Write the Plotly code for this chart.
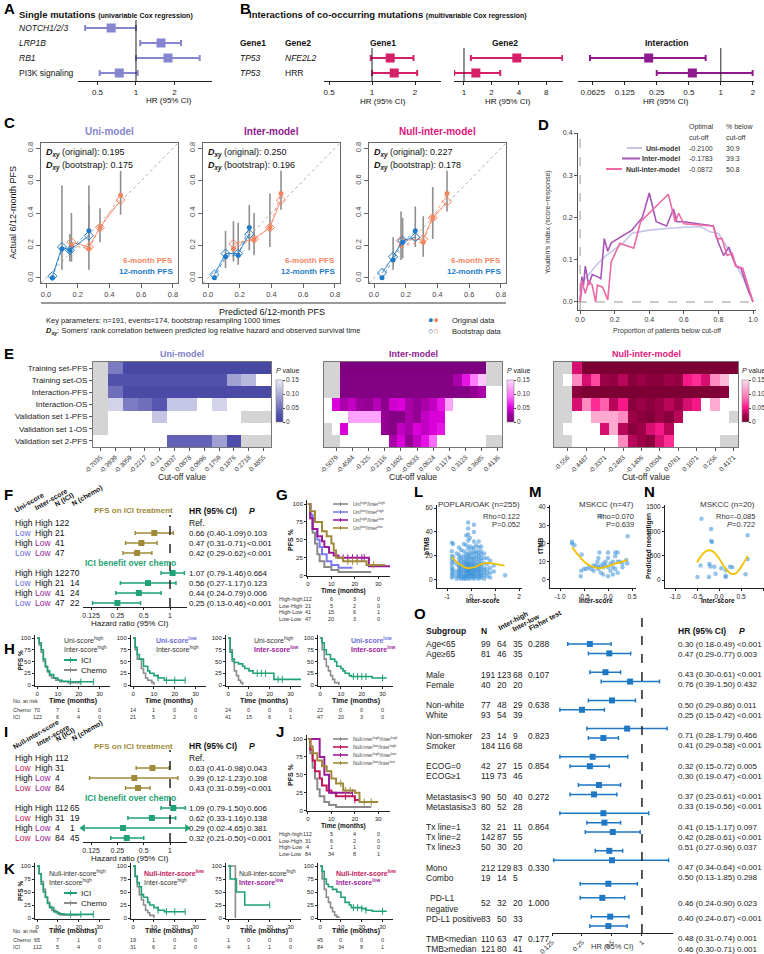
import math
import plotly.graph_objects as go

W, H = 764, 954
FONT = "Liberation Sans, Arial, Helvetica, sans-serif"
NARROW = "Liberation Sans Narrow, Liberation Sans, Arial, sans-serif"

UNI_C = "#8585d0"; INTER_C = "#8e1a8e"; NULL_C = "#e0147a"; B_PINK = "#d61f69"
ORANGE = "#f4845f"; BLUE = "#1f7bc8"; OLIVE = "#a08a3a"; GREEN = "#1fa274"
KM_GRAY = "#8c8c8c"; LOW_UNI = "#6b6bd8"; LOW_INTER = "#9b1a9b"; LOW_NULL = "#c2185b"
SCAT_C = "rgba(58,146,216,0.55)"; LOESS_C = "#f2c200"; O_BLUE = "#1f78c4"

# ---------------- DATA ----------------
A_LABELS = ["<i>NOTCH1/2/3</i>", "<i>LRP1B</i>", "<i>RB1</i>", "PI3K signaling"]
A_HR = [0.64, 1.57, 1.78, 0.74]
A_LO = [0.40, 1.08, 1.00, 0.52]
A_HI = [1.00, 2.25, 3.15, 1.03]
A_TICKS = [0.5, 1, 2, 4]

B_GENE1 = ["<i>TP53</i>", "<i>TP53</i>"]
B_GENE2 = ["<i>NFE2L2</i>", "HRR"]
B_G1_HR = [1.34, 1.43]; B_G1_LO = [0.98, 1.00]; B_G1_HI = [1.95, 2.07]
B_G2_HR = [3.80, 1.35]; B_G2_LO = [1.19, 0.78]; B_G2_HI = [12.0, 2.50]
B_IN_HR = [0.21, 0.54]; B_IN_LO = [0.059, 0.25]; B_IN_HI = [0.72, 1.99]
B_G1_TICKS = [0.5, 1, 2]
B_G2_TICKS = [1, 2, 4, 8]
B_IN_TICKS = [0.0625, 0.125, 0.25, 0.5, 1, 2]

C_MODELS = ["Uni-model", "Inter-model", "Null-inter-model"]
C_DXY_ORIG = ["0.195", "0.250", "0.227"]
C_DXY_BOOT = ["0.175", "0.196", "0.178"]
C_TICKS = [0.0, 0.2, 0.4, 0.6, 0.8]
C6_PRED = [[0.16, 0.27, 0.34, 0.47], [0.16, 0.29, 0.39, 0.46], [0.17, 0.31, 0.37, 0.46]]
C6_OBS = [[0.20, 0.18, 0.31, 0.51], [0.18, 0.24, 0.31, 0.52], [0.20, 0.22, 0.37, 0.52]]
C6_BOOT = [[0.22, 0.19, 0.31, 0.48], [0.21, 0.24, 0.31, 0.48], [0.23, 0.24, 0.37, 0.47]]
C6_LO = [[0.10, 0.05, 0.22, 0.39], [0.10, 0.14, 0.19, 0.42], [0.11, 0.13, 0.24, 0.41]]
C6_HI = [[0.40, 0.57, 0.43, 0.66], [0.35, 0.40, 0.52, 0.66], [0.41, 0.38, 0.56, 0.66]]
C12_PRED = [[0.04, 0.10, 0.15, 0.27], [0.04, 0.11, 0.19, 0.26], [0.05, 0.12, 0.18, 0.26]]
C12_OBS = [[0.00, 0.18, 0.17, 0.29], [0.00, 0.13, 0.14, 0.31], [0.00, 0.11, 0.22, 0.29]]
C12_BOOT = [[0.01, 0.19, 0.17, 0.26], [0.02, 0.15, 0.15, 0.27], [0.03, 0.13, 0.23, 0.25]]
C12_LO = [[None, 0.05, 0.10, 0.18], [None, 0.06, 0.08, 0.17], [None, 0.05, 0.12, 0.19]]
C12_HI = [[None, 0.57, 0.27, 0.45], [None, 0.29, 0.34, 0.45], [None, 0.25, 0.37, 0.44]]

D_UNI_X = [0, 0.02, 0.06, 0.1, 0.15, 0.2, 0.25, 0.3, 0.4, 0.5, 0.6, 0.7, 0.75, 0.8, 0.85, 0.9, 0.95, 1.0]
D_UNI_Y = [0, 0.05, 0.07, 0.09, 0.11, 0.125, 0.14, 0.163, 0.17, 0.174, 0.177, 0.178, 0.166, 0.162, 0.13, 0.09, 0.05, 0.0]
D_INT_X = [0, 0.01, 0.02, 0.03, 0.05, 0.07, 0.1, 0.12, 0.14, 0.16, 0.18, 0.3, 0.36, 0.4, 0.44, 0.5, 0.54, 0.56, 0.6, 0.7, 0.77, 0.8, 0.83, 0.86, 0.9, 0.93, 0.97, 1.0]
D_INT_Y = [0, 0.06, 0.04, 0.085, 0.04, 0.065, 0.06, 0.055, 0.15, 0.12, 0.14, 0.17, 0.2, 0.258, 0.19, 0.18, 0.22, 0.19, 0.19, 0.185, 0.18, 0.14, 0.11, 0.13, 0.085, 0.08, 0.03, 0.0]
D_NUL_X = [0, 0.01, 0.03, 0.05, 0.07, 0.09, 0.1, 0.13, 0.16, 0.18, 0.23, 0.31, 0.35, 0.51, 0.55, 0.57, 0.6, 0.77, 0.79, 0.82, 0.85, 0.88, 0.9, 0.94, 1.0]
D_NUL_Y = [0, 0.05, 0.02, 0.05, 0.04, 0.0, 0.04, 0.035, 0.005, 0.095, 0.139, 0.127, 0.19, 0.255, 0.19, 0.21, 0.185, 0.18, 0.15, 0.15, 0.11, 0.115, 0.085, 0.08, 0.0]
D_NAMES = ["Uni-model", "Inter-model", "Null-inter-model"]
D_CUTOFF = ["-0.2100", "-0.1783", "-0.0872"]
D_PCT = ["30.9", "39.3", "50.8"]
D_COLORS = ["#c5c5ea", "#a855b8", "#ee6aa5"]

NA = -1.0
WH = 1.0
E_ROWS = ["Training set-PFS", "Training set-OS", "Interaction-PFS", "Interaction-OS",
          "Validation set 1-PFS", "Validation set 1-OS", "Validation set 2-PFS"]
E_UNI_TICKS = ["-0.7035", "-0.3939", "-0.3059", "-0.2217", "-0.21", "0.0037", "0.0878", "0.0996",
               "0.1759", "0.1876", "0.2718", "0.4855"]
E_INTER_TICKS = ["-0.5079", "-0.4584", "-0.325", "-0.2116", "-0.1602", "-0.0633", "0.0624", "0.1174",
                 "0.3123", "0.3685", "0.4136"]
E_NULL_TICKS = ["-0.556", "-0.4487", "-0.3371", "-0.2483", "-0.1406", "-0.0504", "0.0761", "0.1071",
                "0.256", "0.4171"]
E_UNI = [
    [NA, .06, .01, .01, .01, .01, .01, .01, .01, .01, .01, .01],
    [NA, .025, .025, .025, .025, .025, .025, .025, .025, .09, .11, WH],
    [NA, .05, .015, .015, .015, .015, .015, .015, .015, .015, .015, .015],
    [NA, .13, .06, .05, .03, .12, .12, WH, .13, WH, WH, WH],
    [NA, WH, WH, WH, .12, WH, WH, WH, WH, WH, NA, NA],
    [NA, WH, WH, WH, WH, WH, WH, WH, WH, WH, WH, WH],
    [WH, WH, WH, WH, WH, .04, .04, .04, .09, .02, NA, NA],
]
E_INTER = [
    [NA, NA, .003, .003, .003, .003, .003, .003, .003, .003, .003, .003, .003, .003, .003, .003, .003, .003, .003, .003, NA, NA],
    [NA, NA, .008, .008, .008, .008, .008, .008, .008, .008, .008, .008, .008, .008, .008, .008, .03, .06, .10, .14, NA, NA],
    [NA, NA, .008, .008, .008, .008, .008, .008, .008, .008, .008, .008, .008, .008, .008, .008, .008, .008, .02, .03, WH, WH],
    [WH, .05, .03, .04, .025, .02, .035, .015, .045, .05, .03, .02, .03, .04, .06, .12, WH, WH, WH, WH, WH, WH],
    [WH, WH, WH, .12, .12, .12, .12, .02, .01, .01, .03, .02, .04, .05, .05, WH, WH, WH, WH, WH, WH, WH],
    [NA, WH, .05, WH, WH, WH, WH, .02, .01, .04, .03, .05, .04, .05, .06, WH, WH, WH, WH, WH, WH, WH],
    [NA, NA, WH, WH, WH, WH, WH, WH, .03, .05, .02, .04, .06, .09, WH, WH, WH, WH, WH, WH, NA, NA],
]
E_NULL = [
    [NA, NA, .04, .003, .003, .003, .003, .003, .003, .003, .003, .003, .003, .003, .003, .003, .003, .003, .003, .003],
    [NA, WH, .10, .04, .07, .02, .015, .03, .01, .02, .01, .01, .02, .015, .05, .06, .04, .10, .13, WH],
    [NA, NA, .01, .003, .003, .003, .003, .003, .003, .003, .003, .003, .003, .003, .003, .003, .003, .003, .01, WH],
    [NA, NA, .04, .10, .06, .08, .03, .05, .01, .02, .01, .02, .03, .02, .04, .05, WH, .12, WH, WH],
    [NA, NA, WH, WH, .12, .12, .12, .10, .02, .01, .005, .02, .01, .03, WH, WH, WH, WH, WH, NA],
    [NA, WH, WH, WH, WH, .04, .12, .03, .01, .02, .04, .05, .03, WH, WH, WH, WH, WH, WH, WH],
    [NA, NA, WH, WH, WH, WH, WH, .10, .03, .02, .01, .04, .06, WH, WH, WH, WH, WH, NA, NA],
]

F_UNI = ["High", "Low", "High", "Low"]
F_INTER = ["High", "High", "Low", "Low"]
F_NICI = [122, 21, 41, 47]
F_NCHEMO = [70, 14, 24, 22]
F_PFS_HR = [None, 0.66, 0.47, 0.42]; F_PFS_LO = [None, 0.40, 0.31, 0.29]; F_PFS_HI = [None, 1.09, 0.71, 0.62]
F_PFS_P = ["", "0.103", "&lt;0.001", "&lt;0.001"]
F_ICI_HR = [1.07, 0.56, 0.44, 0.25]; F_ICI_LO = [0.79, 0.27, 0.24, 0.13]; F_ICI_HI = [1.46, 1.17, 0.79, 0.46]
F_ICI_P = ["0.664", "0.123", "0.006", "&lt;0.001"]

I_NULL = ["High", "Low", "High", "Low"]
I_INTER = ["High", "High", "Low", "Low"]
I_NICI = [112, 31, 4, 84]
I_NCHEMO = [65, 19, 1, 45]
I_PFS_HR = [None, 0.63, 0.39, 0.43]; I_PFS_LO = [None, 0.41, 0.12, 0.31]; I_PFS_HI = [None, 0.98, 1.23, 0.59]
I_PFS_P = ["", "0.043", "0.108", "&lt;0.001"]
I_ICI_HR = [1.09, 0.62, 0.29, 0.32]; I_ICI_LO = [0.79, 0.33, 0.02, 0.21]; I_ICI_HI = [1.50, 1.16, 4.65, 0.50]
I_ICI_P = ["0.606", "0.138", "0.381", "&lt;0.001"]
FOREST_TICKS = [0.125, 0.25, 0.5, 1]

G_T = [[0, 1, 2, 3, 4, 5, 7, 10, 13, 27],
       [0, 1, 2, 4, 5, 6, 8, 10, 13, 19],
       [0, 1, 2, 4, 6, 7, 9, 11, 13, 25, 26, 35],
       [0, 1, 3, 6, 8, 10, 11, 12, 15, 22, 25, 33]]
G_S = [[100, 80, 60, 45, 30, 20, 12, 8, 5, 5],
       [100, 85, 65, 50, 40, 30, 20, 15, 11, 11],
       [100, 80, 65, 55, 48, 40, 32, 28, 25, 25, 13, 13],
       [100, 90, 75, 62, 55, 45, 35, 25, 20, 20, 15, 15]]
G_CENS = [[], [], [15, 17, 19, 21, 23, 24], [17, 19, 21, 28]]
G_LEG = ["Uni<sup>high</sup>/Inter<sup>high</sup>", "Uni<sup>low</sup>/Inter<sup>high</sup>",
         "Uni<sup>high</sup>/Inter<sup>low</sup>", "Uni<sup>low</sup>/Inter<sup>low</sup>"]
G_COLORS = ["#8a8a8a", "#7b7bf0", "#9b1a9b", "#a08a3a"]
G_RISK_LAB = ["High-high", "Low-High", "High-Low", "Low-Low"]
G_RISK = [[112, 6, 3, 0], [21, 5, 2, 0], [41, 15, 6, 1], [47, 20, 3, 0]]

J_T = [[0, 1, 2, 3, 4, 5, 7, 9, 12, 27],
       [0, 1, 2, 3, 5, 6, 8, 10, 12, 20, 22],
       [0, 5, 7, 9, 19],
       [0, 1, 2, 4, 6, 8, 10, 12, 15, 20, 22, 30]]
J_S = [[100, 80, 60, 45, 30, 20, 12, 8, 5, 5],
       [100, 85, 70, 55, 45, 35, 28, 25, 20, 15, 15],
       [100, 75, 50, 25, 25],
       [100, 90, 80, 70, 62, 55, 45, 38, 28, 25, 12, 12]]
J_CENS = [[], [16, 20], [19], [14, 16, 18, 24, 27]]
J_LEG = ["Null-inter<sup>high</sup>/Inter<sup>high</sup>", "Null-inter<sup>low</sup>/Inter<sup>high</sup>",
         "Null-inter<sup>high</sup>/Inter<sup>low</sup>", "Null-inter<sup>low</sup>/Inter<sup>low</sup>"]
J_COLORS = ["#8a8a8a", "#c2185b", "#9b1a9b", "#a08a3a"]
J_RISK = [[112, 5, 4, 0], [31, 6, 2, 0], [4, 1, 1, 0], [84, 34, 8, 1]]

H_ICI_T = [[0, 1, 2, 3, 4, 5, 6, 8, 10, 12, 15, 27],
           [0, 1, 2, 3, 5, 7, 8, 10, 12, 15, 25],
           [0, 1, 2, 3, 5, 7, 8, 10, 12, 20, 22, 35],
           [0, 1, 2, 3, 5, 7, 8, 10, 11, 12, 14, 15, 22, 25, 32]]
H_ICI_S = [[100, 90, 75, 55, 40, 30, 22, 15, 10, 8, 7, 7],
           [100, 80, 65, 55, 40, 30, 25, 20, 15, 10, 10],
           [100, 70, 55, 48, 45, 40, 35, 30, 25, 25, 12, 12],
           [100, 90, 75, 65, 55, 50, 40, 35, 30, 25, 20, 18, 18, 15, 15]]
H_CH_T = [[0, 1, 2, 3, 4, 5, 6, 7, 9, 11, 15, 21],
          [0, 1, 2, 4, 5, 6, 7, 9, 10],
          [0, 1, 2, 3, 4, 5, 6, 7],
          [0, 1, 2, 3, 4, 5, 6, 7, 9]]
H_CH_S = [[100, 85, 70, 50, 38, 28, 20, 15, 10, 7, 5, 5],
          [100, 75, 55, 35, 25, 15, 10, 5, 0],
          [100, 75, 50, 30, 20, 10, 5, 0],
          [100, 75, 55, 40, 30, 20, 12, 5, 0]]
H_CENS = [[16, 21, 27], [12, 16, 20, 25], [14, 16, 18, 24, 26], [16, 18, 20, 22, 30]]
H_T1 = ["Uni-score<sup>high</sup>", "Uni-score<sup>low</sup>", "Uni-score<sup>high</sup>", "Uni-score<sup>low</sup>"]
H_T1_C = [None, LOW_UNI, None, LOW_UNI]
H_T2 = ["Inter-score<sup>high</sup>", "Inter-score<sup>high</sup>", "Inter-score<sup>low</sup>", "Inter-score<sup>low</sup>"]
H_T2_C = [None, None, LOW_INTER, LOW_INTER]
H_RISK_CH = [[70, 7, 1, 0], [14, 1, 0, 0], [24, 0, 0, 0], [22, 0, 0, 0]]
H_RISK_ICI = [[122, 6, 4, 0], [21, 5, 2, 0], [41, 15, 6, 1], [47, 20, 3, 0]]

K_ICI_T = [[0, 1, 2, 3, 4, 5, 6, 8, 10, 13, 27],
           [0, 1, 2, 3, 4, 5, 7, 8, 10, 12, 15, 25],
           [0, 1, 4, 8, 20],
           [0, 1, 2, 3, 4, 6, 8, 10, 12, 14, 15, 20, 22, 25, 32]]
K_ICI_S = [[100, 85, 65, 50, 40, 28, 20, 12, 8, 7, 7],
           [100, 80, 68, 60, 45, 40, 30, 25, 20, 15, 12, 12],
           [100, 75, 50, 25, 25],
           [100, 90, 75, 65, 60, 55, 50, 40, 30, 25, 20, 18, 15, 13, 13]]
K_CH_T = [[0, 1, 2, 3, 4, 5, 6, 7, 9, 11, 20],
          [0, 1, 2, 3, 4, 5, 6, 7, 8, 10],
          [0, 3.5],
          [0, 1, 2, 3, 4, 5, 6, 7, 8, 9]]
K_CH_S = [[100, 85, 70, 55, 40, 30, 22, 15, 10, 6, 5],
          [100, 80, 60, 45, 35, 25, 15, 10, 5, 0],
          [100, 0],
          [100, 75, 55, 40, 30, 20, 12, 5, 2, 0]]
K_CENS = [[16, 21, 27], [12, 16, 20, 25], [20], [16, 18, 20, 22, 30]]
K_T1 = ["Null-inter-score<sup>high</sup>", "Null-inter-score<sup>low</sup>", "Null-inter-score<sup>high</sup>", "Null-inter-score<sup>low</sup>"]
K_T1_C = [None, LOW_NULL, None, LOW_NULL]
K_T2 = ["Inter-score<sup>high</sup>", "Inter-score<sup>high</sup>", "Inter-score<sup>low</sup>", "Inter-score<sup>low</sup>"]
K_T2_C = [None, None, LOW_INTER, LOW_INTER]
K_RISK_CH = [[65, 7, 1, 0], [19, 1, 0, 0], [1, 0, 0, 0], [45, 0, 0, 0]]
K_RISK_ICI = [[112, 5, 4, 0], [31, 6, 2, 0], [4, 1, 1, 0], [84, 34, 8, 1]]
RISK_TIMES = [0, 10, 20, 30]
KM_XTICKS = [0, 10, 20, 30]
KM_YTICKS = [0, 25, 50, 75, 100]

L_COL_X = [-0.8, -0.75, -0.6, -0.5, -0.42, -0.3, -0.2, -0.12, -0.05, 0.05, 0.12, 0.22, 0.32, 0.42, 0.55, 0.68, 0.8, 0.95, 1.42]
L_COL_Y = [
    [31, 24, 20, 17, 14, 11, 8, 5, 2],
    [30, 19, 15, 9, 6, 3],
    [22, 13, 7, 4, 1],
    [27, 21, 18, 15, 12, 10, 8, 6, 4, 2],
    [25, 19, 16, 13, 11, 9, 7, 5, 3, 1],
    [30, 24, 20, 17, 15, 13, 11, 9, 7, 5, 3, 2, 1],
    [37, 29, 22, 19, 16, 14, 12, 10, 8, 6, 4, 3, 1],
    [48, 43, 38, 33, 26, 21, 18, 15, 13, 11, 9, 7, 6, 4, 2],
    [35, 28, 23, 20, 17, 14, 12, 10, 8, 6, 5, 3, 1],
    [26, 22, 18, 15, 13, 11, 9, 8, 6, 4, 2],
    [46, 40, 32, 27, 23, 19, 16, 13, 11, 9, 7, 5, 3, 1],
    [29, 24, 21, 18, 15, 12, 10, 8, 6, 4, 2],
    [32, 27, 23, 20, 17, 14, 12, 10, 8, 7, 5, 3, 1],
    [28, 24, 21, 18, 16, 13, 11, 9, 7, 5, 3, 2],
    [22, 18, 14, 10, 8, 6, 4, 1],
    [18, 13, 9, 6, 3],
    [16, 10, 6, 2],
    [12, 7],
    [4],
]
L_FIT_X = [-0.8, -0.6, -0.4, -0.2, 0.0, 0.2, 0.4, 0.6, 0.8, 1.0, 1.2, 1.4]
L_FIT_Y = [19, 15, 12, 10, 10, 11, 13, 14, 14, 13.5, 12.5, 12]
M_X = [-0.75, -0.75, -0.7, -0.55, -0.57, -0.56, -0.5, -0.45, -0.4, -0.35, -0.3, -0.3, -0.25, -0.22, -0.2, -0.2,
       -0.2, -0.18, -0.15, -0.15, -0.1, -0.1, -0.1, -0.05, -0.05, -0.15, 0.0, 0.0, 0.0, 0.0, 0.05, 0.05, 0.1, 0.1,
       0.1, 0.15, 0.15, 0.15, 0.2, 0.2, 0.2, 0.25, 0.3, 0.3, 0.41, 0.4, 0.38]
M_Y = [20, 21, 19, 14, 2, 5, 6, 6, 7, 6, 8, 5, 8, 10, 6, 12, 7, 15, 8, 4, 7, 9, 3, 8, 10, 35, 15, 12, 7, 2, 5, 9,
       10, 7, 3, 13, 15, 6, 10, 15, 4, 10, 9, 7, 24, 9, 11]
M_FIT_X = [-0.75, -0.6, -0.45, -0.3, -0.15, 0.0, 0.15, 0.3, 0.4]
M_FIT_Y = [18, 13, 9, 7, 6.5, 7.5, 9, 10, 11]
N_X = [-0.49, -0.42, -0.40, -0.23, -0.22, -0.2, -0.18, -0.18, -0.16, -0.11, -0.08, 0.05, 0.15, 0.15, 0.15, 0.25,
       0.3, 0.6, 0.65, 0.65]
N_Y = [60, 300, 1260, 60, 330, 280, 1050, 800, 780, 270, 130, 240, 200, 60, 90, 270, 260, 120, 430, 920]
N_FIT_X = [-0.5, -0.4, -0.3, -0.2, -0.1, 0.0, 0.1, 0.2, 0.3, 0.4, 0.5, 0.65]
N_FIT_Y = [360, 500, 590, 610, 560, 440, 300, 180, 120, 150, 270, 490]

O_SUB = ["Age&lt;65", "Age≥65", "Male", "Female", "Non-white", "White", "Non-smoker", "Smoker", "ECOG=0",
         "ECOG≥1", "Metastasis&lt;3", "Metastasis≥3", "Tx line=1", "Tx line=2", "Tx line≥3", "Mono", "Combo",
         "PD-L1<br>negative", "PD-L1 positive", "TMB&lt;median", "TMB≥median"]
O_GROUP = [0, 0, 1, 1, 2, 2, 3, 3, 4, 4, 5, 5, 6, 6, 6, 7, 7, 8, 8, 9, 9]
O_N = [99, 81, 191, 40, 77, 93, 23, 184, 42, 119, 90, 80, 32, 142, 50, 212, 19, 52, 83, 110, 121]
O_HIGH = [64, 46, 123, 20, 48, 54, 14, 116, 27, 73, 50, 52, 21, 87, 30, 129, 14, 32, 50, 63, 80]
O_LOW = [35, 35, 68, 20, 29, 39, 9, 68, 15, 46, 40, 28, 11, 55, 20, 83, 5, 20, 33, 47, 41]
O_FISHER = ["0.288", "", "0.107", "", "0.638", "", "0.823", "", "0.854", "", "0.272", "", "0.864", "", "",
            "0.330", "", "1.000", "", "0.177", ""]
O_HR = [0.30, 0.47, 0.43, 0.76, 0.50, 0.25, 0.71, 0.41, 0.32, 0.30, 0.37, 0.33, 0.41, 0.42, 0.51, 0.47, 0.50, 0.46, 0.40, 0.48, 0.46]
O_LO = [0.18, 0.29, 0.30, 0.39, 0.29, 0.15, 0.28, 0.29, 0.15, 0.19, 0.23, 0.19, 0.15, 0.28, 0.27, 0.34, 0.13, 0.24, 0.24, 0.31, 0.30]
O_HI = [0.49, 0.77, 0.61, 1.50, 0.86, 0.42, 1.79, 0.58, 0.72, 0.47, 0.61, 0.56, 1.17, 0.61, 0.96, 0.64, 1.85, 0.90, 0.67, 0.74, 0.71]
O_P = ["&lt;0.001", "0.003", "&lt;0.001", "0.432", "0.011", "&lt;0.001", "0.466", "&lt;0.001", "0.005", "&lt;0.001",
       "&lt;0.001", "&lt;0.001", "0.097", "&lt;0.001", "0.037", "&lt;0.001", "0.298", "0.023", "&lt;0.001", "0.001", "0.001"]
O_TICKS = [0.125, 0.25, 0.5, 1]

# ---------------- helpers ----------------
fig = go.Figure()
LAYOUT = {}
ANN = []
SHP = []


def X(px):
    return px / W


def Y(py):
    return 1 - py / H


def rid(n):
    return ("x" if n == 1 else f"x{n}"), ("y" if n == 1 else f"y{n}")


def axes(n, x0, x1, y0, y1, xa=None, ya=None):
    xr, yr = rid(n)
    base = dict(showgrid=False, zeroline=False, visible=False, fixedrange=True)
    xd = dict(base, domain=[X(x0), X(x1)], anchor=yr)
    yd = dict(base, domain=[Y(y1), Y(y0)], anchor=xr)
    if xa:
        xd.update(xa)
    if ya:
        yd.update(ya)
    LAYOUT["xaxis" + ("" if n == 1 else str(n))] = xd
    LAYOUT["yaxis" + ("" if n == 1 else str(n))] = yd


def T(x, y, s, size=8, color="#111", xa="left", ya="middle", xref="paper", yref="paper", angle=0, family=FONT):
    ANN.append(dict(x=X(x) if xref == "paper" else x, y=Y(y) if yref == "paper" else y, xref=xref, yref=yref,
                    text=s, showarrow=False, xanchor=xa, yanchor=ya, textangle=angle, borderpad=0,
                    font=dict(size=size, color=color, family=family)))


def LN(x0, y0, x1, y1, color="#111", width=1, dash="solid", xref="paper", yref="paper", layer="above"):
    SHP.append(dict(type="line", x0=X(x0) if xref == "paper" else x0, x1=X(x1) if xref == "paper" else x1,
                    y0=Y(y0) if yref == "paper" else y0, y1=Y(y1) if yref == "paper" else y1,
                    xref=xref, yref=yref, layer=layer, line=dict(color=color, width=width, dash=dash)))


AXV = dict(visible=True, showline=True, linecolor="#222", linewidth=1, ticks="outside", ticklen=3,
           tickwidth=1, tickcolor="#222")


def tf(size=8, color="#222", family=FONT):
    return dict(size=size, color=color, family=family)


def logaxis(lo, hi, ticks, size=8, **kw):
    d = dict(AXV, type="log", range=[math.log10(lo), math.log10(hi)], tickvals=ticks,
             ticktext=[f"{t:g}" for t in ticks], tickfont=tf(size))
    d.update(kw)
    return d


def forest(n, hr, lo, hi, ys, color, size=8, thick=2, capw=3, xlim=None):
    xr, yr = rid(n)
    idx = [i for i in range(len(hr)) if hr[i] is not None]
    fig.add_trace(go.Scatter(
        x=[hr[i] for i in idx], y=[ys[i] for i in idx], mode="markers", xaxis=xr, yaxis=yr,
        marker=dict(symbol="square", size=size, color=color),
        error_x=dict(type="data", symmetric=False, array=[hi[i] - hr[i] for i in idx],
                     arrayminus=[hr[i] - lo[i] for i in idx], color=color, thickness=thick, width=capw),
        showlegend=False, hoverinfo="skip"))
    if xlim:
        ax, ay, sym = [], [], []
        for i in idx:
            if lo[i] < xlim[0]:
                ax.append(xlim[0]); ay.append(ys[i]); sym.append("triangle-left")
            if hi[i] > xlim[1]:
                ax.append(xlim[1]); ay.append(ys[i]); sym.append("triangle-right")
        if ax:
            fig.add_trace(go.Scatter(x=ax, y=ay, mode="markers", xaxis=xr, yaxis=yr, cliponaxis=False,
                                     marker=dict(symbol=sym, size=7, color=color), showlegend=False,
                                     hoverinfo="skip"))


def vline1(n, dash="solid", width=1, color="#222"):
    xr, yr = rid(n)
    LN(1, 0, 1, 1, color=color, width=width, dash=dash, xref=xr, yref=yr + " domain")


def surv_at(t, s, c):
    v = s[0]
    for ti, si in zip(t, s):
        if ti <= c:
            v = si
    return v


def km(n, t, s, color, width=1.5, cens=None):
    xr, yr = rid(n)
    fig.add_trace(go.Scatter(x=t, y=s, mode="lines", line=dict(shape="hv", color=color, width=width),
                             xaxis=xr, yaxis=yr, showlegend=False, hoverinfo="skip"))
    if cens:
        fig.add_trace(go.Scatter(x=cens, y=[surv_at(t, s, c) for c in cens], mode="markers", xaxis=xr,
                                 yaxis=yr, marker=dict(symbol="line-ns", size=5, line=dict(color=color, width=1)),
                                 showlegend=False, hoverinfo="skip"))


def label(x, y, s):
    T(x, y, f"<b>{s}</b>", size=15, color="#000", family="Liberation Sans, Arial, sans-serif")


# ---------------- Panel A ----------------
label(3, 9, "A")
T(18, 15, "<b>Single mutations</b> <span style='font-size:7px'><b>(univariable Cox regression)</b></span>",
  size=9.5, family=NARROW)
axes(1, 78, 212, 20, 81, xa=logaxis(0.352, 3.93, A_TICKS), ya=dict(range=[3.533, -0.533]))
vline1(1)
forest(1, A_HR, A_LO, A_HI, list(range(len(A_HR))), UNI_C, size=9, thick=2, capw=3)
for i, lab in enumerate(A_LABELS):
    T(18, i, lab, size=8.5, yref="y")
T(145, 100, "HR (95% CI)", size=8)

# ---------------- Panel B ----------------
label(239, 9, "B")
T(248, 15, "<b>Interactions of co-occurring mutations</b> <span style='font-size:7px'><b>(multivariable Cox regression)</b></span>",
  size=9.5, family=NARROW)
T(239, 43, "<b>Gene1</b>", size=8.5, family=NARROW)
T(284, 43, "<b>Gene2</b>", size=8.5, family=NARROW)
rows_b = list(range(len(B_GENE1)))
axes(2, 324, 441, 48, 81, xa=logaxis(0.461, 3.04, B_G1_TICKS), ya=dict(range=[1.533, -0.667]))
axes(3, 454, 563, 48, 81, xa=logaxis(0.777, 12.2, B_G2_TICKS), ya=dict(range=[1.533, -0.667]))
axes(4, 578, 754, 48, 81, xa=logaxis(0.0455, 2.05, B_IN_TICKS), ya=dict(range=[1.533, -0.667]))
for n in (2, 3, 4):
    vline1(n)
forest(2, B_G1_HR, B_G1_LO, B_G1_HI, rows_b, B_PINK, size=9)
forest(3, B_G2_HR, B_G2_LO, B_G2_HI, rows_b, B_PINK, size=9)
forest(4, B_IN_HR, B_IN_LO, B_IN_HI, rows_b, INTER_C, size=9)
for i in rows_b:
    T(239, i, B_GENE1[i], size=8.5, yref="y2")
    T(284, i, B_GENE2[i], size=8.5, yref="y2")
T(383, 43, "<b>Gene1</b>", size=8.5, xa="center", family=NARROW)
T(505, 43, "<b>Gene2</b>", size=8.5, xa="center", family=NARROW)
T(666, 43, "<b>Interaction</b>", size=8.5, xa="center", family=NARROW)
for cx in (383, 508, 666):
    T(cx, 101, "HR (95% CI)", size=8, xa="center")

# ---------------- Panel C ----------------
label(3, 122, "C")
C_BOX_X = [(41, 178), (203, 340), (369, 506)]
C_COLORS = [UNI_C, INTER_C, NULL_C]
CR = [-0.032, 0.832]
for i in range(3):
    n = 5 + i
    x0, x1 = C_BOX_X[i]
    xr, yr = rid(n)
    cax = dict(AXV, range=CR, tickvals=C_TICKS, ticktext=[f"{t:.1f}" for t in C_TICKS], mirror=True,
               linecolor="#666", tickcolor="#666", ticklen=4, tickfont=tf(7.5, "#444"))
    axes(n, x0, x1, 143, 283, xa=dict(cax), ya=dict(cax, tickangle=-90))
    LN(CR[0], CR[0], CR[1], CR[1], color="#b0b0b0", width=1, dash="dot", xref=xr, yref=yr, layer="below")
    for pred, obs, lo, hi in ((C6_PRED[i], C6_OBS[i], C6_LO[i], C6_HI[i]),
                              (C12_PRED[i], C12_OBS[i], C12_LO[i], C12_HI[i])):
        idx = [k for k in range(len(pred)) if lo[k] is not None]
        fig.add_trace(go.Scatter(
            x=[pred[k] for k in idx], y=[obs[k] for k in idx], mode="markers", xaxis=xr, yaxis=yr,
            marker=dict(size=1, color="rgba(0,0,0,0)"),
            error_y=dict(type="data", symmetric=False, array=[hi[k] - obs[k] for k in idx],
                         arrayminus=[obs[k] - lo[k] for k in idx], color="#8f8f8f", thickness=1.6, width=0),
            showlegend=False, hoverinfo="skip"))
    for pred, obs, boot, col in ((C6_PRED[i], C6_OBS[i], C6_BOOT[i], ORANGE),
                                 (C12_PRED[i], C12_OBS[i], C12_BOOT[i], BLUE)):
        fig.add_trace(go.Scatter(x=pred, y=boot, mode="lines+markers", xaxis=xr, yaxis=yr,
                                 line=dict(color=col, width=0.9),
                                 marker=dict(symbol="diamond-open", size=7, color=col, line=dict(width=1)),
                                 showlegend=False, hoverinfo="skip"))
        fig.add_trace(go.Scatter(x=pred, y=obs, mode="lines+markers", xaxis=xr, yaxis=yr,
                                 line=dict(color=col, width=0.8, dash="dot"),
                                 marker=dict(symbol="circle", size=5, color=col),
                                 showlegend=False, hoverinfo="skip"))
    T((x0 + x1) / 2, 131, f"<b>{C_MODELS[i]}</b>", size=10, color=C_COLORS[i], xa="center")
    T(x0 + 4, 153, f"<b><i>D</i></b><sub><b><i>xy</i></b></sub> (original): {C_DXY_ORIG[i]}", size=9)
    T(x0 + 4, 166, f"<b><i>D</i></b><sub><b><i>xy</i></b></sub> (bootstrap): {C_DXY_BOOT[i]}", size=9)
    T(x1 - 4, 260, "<b>6-month PFS</b>", size=8, color=ORANGE, xa="right")
    T(x1 - 4, 271, "<b>12-month PFS</b>", size=8, color=BLUE, xa="right")
T(13, 213, "Actual 6/12-month PFS", size=9, xa="center", angle=-90)
LN(41, 303, 506, 303, color="#9a9a9a", width=2)
T(272, 312, "Predicted 6/12-month PFS", size=9, xa="center")
T(45, 320, "Key parameters: n=191, events=174, bootstrap resampling 1000 times", size=7.5, color="#222")
T(45, 331, "<b><i>D</i></b><sub><b><i>xy</i></b></sub>: Somers' rank correlation between predicted log relative hazard and observed survival time",
  size=7.5, color="#222")
T(427, 320, f"<span style='color:{BLUE}'>●</span><span style='color:{ORANGE}'>●</span>", size=9)
T(427, 331, f"<span style='color:{BLUE}'><b>○</b></span><span style='color:{ORANGE}'><b>○</b></span>", size=9)
T(451, 320, "Original data", size=7.5, color="#222")
T(451, 331, "Bootstrap data", size=7.5, color="#222")

# ---------------- Panel D ----------------
label(537, 124, "D")
axes(8, 578, 756, 133, 310,
     xa=dict(AXV, range=[-0.012, 1.017], tickvals=[0, 0.2, 0.4, 0.6, 0.8, 1.0],
             ticktext=["0.0", "0.2", "0.4", "0.6", "0.8", "1.0"], tickfont=tf(7, "#333"), linecolor="#555",
             tickcolor="#555"),
     ya=dict(AXV, range=[-0.019, 0.4], tickvals=[0, 0.1, 0.2, 0.3, 0.4],
             ticktext=["0.0", "0.1", "0.2", "0.3", "0.4"], tickfont=tf(7, "#333"), linecolor="#555",
             tickcolor="#555"))
LN(0, 0, 0, 1, color="#999", width=1, dash="dash", xref="x8", yref="y8 domain", layer="below")
LN(0, 0, 1, 0, color="#999", width=1, dash="dash", xref="x8 domain", yref="y8", layer="below")
for xs, ys, col in ((D_UNI_X, D_UNI_Y, D_COLORS[0]), (D_INT_X, D_INT_Y, D_COLORS[1]),
                    (D_NUL_X, D_NUL_Y, D_COLORS[2])):
    fig.add_trace(go.Scatter(x=xs, y=ys, mode="lines", line=dict(color=col, width=1.6), xaxis="x8",
                             yaxis="y8", showlegend=False, hoverinfo="skip"))
T(548, 222, "Youden's index (score~response)", size=7, xa="center", angle=-90, color="#333")
T(667, 331, "Proportion of patients below cut-off", size=7, xa="center", color="#333")
T(688, 127, "Optimal", size=7, color="#333")
T(688, 137, "cut-off", size=7, color="#333")
T(725, 127, "% below", size=7, color="#333")
T(725, 137, "cut-off", size=7, color="#333")
D_KEY = [(627, 642), (622, 640), (606, 622)]
for i in range(3):
    yy = 148 + i * 10.5
    LN(D_KEY[i][0], yy, D_KEY[i][1], yy, color=D_COLORS[i], width=2)
    T(681, yy, f"<b>{D_NAMES[i]}</b>", size=7, color="#333", xa="right")
    T(688, yy, D_CUTOFF[i], size=7, color="#333")
    T(725, yy, D_PCT[i], size=7, color="#333")

# ---------------- Panel E ----------------
label(3, 354, "E")
UNI_CS = [[0, "#3f3f9e"], [0.2, "#5656b0"], [0.5, "#8d8dc9"], [1, "#ebebf7"]]
INTER_CS = [[0, "#7a007a"], [0.15, "#960096"], [0.35, "#e000e0"], [0.6, "#ff6aff"], [1, "#ffd8ff"]]
NULL_CS = [[0, "#780032"], [0.15, "#a0004a"], [0.35, "#ff1a8c"], [0.6, "#ff7ab8"], [1, "#ffd8ea"]]
E_SPECS = [
    (9, (93, 271), E_UNI, E_UNI_TICKS, UNI_CS, "Uni-model", "#8080c8", 276),
    (10, (324, 502), E_INTER, E_INTER_TICKS, INTER_CS, "Inter-model", INTER_C, 507),
    (11, (554, 738), E_NULL, E_NULL_TICKS, NULL_CS, "Null-inter-model", NULL_C, 742),
]
for n, (x0, x1), mat, ticks, cs, title, tcol, cbx in E_SPECS:
    xr, yr = rid(n)
    ncol = len(mat[0])
    step = ncol // len(ticks)
    tickpos = [k * step + (step - 1) for k in range(len(ticks))] if step > 1 else list(range(len(ticks)))
    axes(n, x0, x1, 362, 447,
         xa=dict(AXV, range=[-0.5, ncol - 0.5], tickvals=tickpos, ticktext=ticks, tickangle=-45,
                 tickfont=tf(6.5, "#333"), mirror=True, linecolor="#777", tickcolor="#555"),
         ya=dict(AXV, range=[len(mat) - 0.5, -0.5], tickvals=list(range(len(mat))), ticktext=E_ROWS,
                 tickfont=tf(8, "#222"), mirror=True, linecolor="#777", tickcolor="#555",
                 showticklabels=(n == 9), ticks="outside" if n == 9 else ""))
    zval = [[v if 0 <= v <= 0.15 else None for v in row] for row in mat]
    zgray = [[1 if v == NA else None for v in row] for row in mat]
    fig.add_trace(go.Heatmap(z=zgray, x=list(range(ncol)), y=list(range(len(mat))), xaxis=xr, yaxis=yr,
                             colorscale=[[0, "#d4d4d4"], [1, "#d4d4d4"]], showscale=False, hoverinfo="skip"))
    fig.add_trace(go.Heatmap(
        z=zval, x=list(range(ncol)), y=list(range(len(mat))), xaxis=xr, yaxis=yr, colorscale=cs, zmin=0,
        zmax=0.15, hoverinfo="skip",
        colorbar=dict(x=X(cbx), xanchor="left", y=Y(401), yanchor="middle", len=42, lenmode="pixels",
                      thickness=7, thicknessmode="pixels", tickvals=[0, 0.05, 0.10, 0.15],
                      ticktext=["0", "0.05", "0.10", "0.15"], tickfont=tf(6.5, "#333"), ticks="outside",
                      ticklen=2, outlinewidth=0.6, outlinecolor="#888", xpad=0, ypad=0)))
    T(cbx - 1, 370, "<i>P</i> value", size=7, color="#222")
    T((x0 + x1) / 2, 354, f"<b>{title}</b>", size=9, color=tcol, xa="center")
    T((x0 + x1) / 2, 477, "Cut-off value", size=8.5, xa="center", color="#222")

# ---------------- Panels F / I ----------------
FL = [0.101, 1.564]
pfs_rows = [0, 1, 2, 3]
ici_rows = [5, 6, 7, 8]


def forest_panel(n, lab, ly, top, c1_names, c1_low_color, c2_names, nici, nchemo, pfs, ici, headers):
    label(3, ly, lab)
    xr, yr = rid(n)
    axes(n, 83, 187, top, top + 92, xa=logaxis(FL[0], FL[1], FOREST_TICKS, size=7, ticklen=2),
         ya=dict(range=[8.4, -0.8]))
    vline1(n, dash="dash", width=1.5)
    forest(n, pfs[0], pfs[1], pfs[2], pfs_rows, OLIVE, size=6, thick=1.5, capw=2, xlim=FL)
    forest(n, ici[0], ici[1], ici[2], ici_rows, GREEN, size=6, thick=1.5, capw=2, xlim=FL)
    for (hx, hy, htxt) in headers:
        T(hx, hy, f"<b>{htxt}</b>", size=7, xa="left", ya="bottom", angle=-30)
    T(174, top - 4, "<b>PFS on ICI treatment</b>", size=8, color=OLIVE, xa="right")
    T(188, top - 4, "<b>HR (95% CI)</b>", size=8.5)
    T(248, top - 4, "<b><i>P</i></b>", size=8.5)
    T(130, top + 48, "<b>ICI benefit over chemo</b>", size=8.5, color=GREEN, xa="center")
    for k in range(4):
        for rows, with_chemo in ((pfs_rows, False), (ici_rows, True)):
            r = rows[k]
            T(14, r, c1_names[k] if c1_names[k] == "High" else f"<span style='color:{c1_low_color}'>Low</span>",
              size=8.5, yref=yr)
            T(34, r, c2_names[k] if c2_names[k] == "High" else f"<span style='color:{LOW_INTER}'>Low</span>",
              size=8.5, yref=yr)
            T(54, r, str(nici[k]), size=8.5, yref=yr)
            if with_chemo:
                T(69, r, str(nchemo[k]), size=8.5, yref=yr)
        if pfs[0][k] is None:
            T(188, pfs_rows[k], "Ref.", size=8.5, yref=yr)
        else:
            T(188, pfs_rows[k], f"{pfs[0][k]:.2f} ({pfs[1][k]:.2f}-{pfs[2][k]:.2f})", size=8, yref=yr, family=NARROW)
            T(246, pfs_rows[k], pfs[3][k], size=8, yref=yr, family=NARROW)
        T(188, ici_rows[k], f"{ici[0][k]:.2f} ({ici[1][k]:.2f}-{ici[2][k]:.2f})", size=8, yref=yr, family=NARROW)
        T(246, ici_rows[k], ici[3][k], size=8, yref=yr, family=NARROW)
    T(130, top + 108, "Hazard ratio (95% CI)", size=8, xa="center")


forest_panel(12, "F", 494, 515, F_UNI, LOW_UNI, F_INTER, F_NICI, F_NCHEMO,
             (F_PFS_HR, F_PFS_LO, F_PFS_HI, F_PFS_P), (F_ICI_HR, F_ICI_LO, F_ICI_HI, F_ICI_P),
             [(12, 515, "Uni-score"), (32, 513, "Inter-score"), (52, 510, "N (ICI)"), (69, 509, "N (chemo)")])
forest_panel(18, "I", 731, 750, I_NULL, LOW_NULL, I_INTER, I_NICI, I_NCHEMO,
             (I_PFS_HR, I_PFS_LO, I_PFS_HI, I_PFS_P), (I_ICI_HR, I_ICI_LO, I_ICI_HI, I_ICI_P),
             [(10, 752, "Null-inter-score"), (34, 749, "Inter-score"), (53, 745, "N (ICI)"), (69, 744, "N (chemo)")])


# ---------------- Panels G / J ----------------
def km_axes(n, x0, x1, y0, y1, yrange, xrange, fs=6.5):
    axes(n, x0, x1, y0, y1,
         xa=dict(AXV, range=xrange, tickvals=KM_XTICKS, tickfont=tf(fs, "#222"), ticklen=2),
         ya=dict(AXV, range=yrange, tickvals=KM_YTICKS, tickfont=tf(fs, "#222"), ticklen=2))


def group_km(n, lab, ly, y_top, T_, S_, C_, LEG, COLS, RISK, risk_y0):
    label(275, ly, lab)
    km_axes(n, 307, 390, y_top, y_top + 76, [-0.5, 105.6], [-0.4, 35], fs=6)
    xr, yr = rid(n)
    for k in range(4):
        km(n, T_[k], S_[k], COLS[k], width=2, cens=C_[k])
        yy = y_top + 4 + 8 * k
        LN(333, yy, 348, yy, color=COLS[k], width=1.6)
        LN(340.5, yy - 2, 340.5, yy + 2, color=COLS[k], width=1)
        T(352, yy, LEG[k], size=5, color="#444")
    T(290, y_top + 40, "<b>PFS %</b>", size=7, xa="center", angle=-90)
    T(343, y_top + 91, "<b>Time (months)</b>", size=6.5, xa="center")
    for k in range(4):
        yy = risk_y0 + 6.5 * k
        T(278, yy, G_RISK_LAB[k], size=5.5, color="#333")
        for tt, v in zip(RISK_TIMES, RISK[k]):
            T(tt, yy, str(v), size=5.5, color="#333", xa="center", xref=xr)


group_km(13, "G", 494, 500, G_T, G_S, G_CENS, G_LEG, G_COLORS, G_RISK, 599)
group_km(19, "J", 731, 735, J_T, J_S, J_CENS, J_LEG, J_COLORS, J_RISK, 834)

# ---------------- Panels H / K ----------------
KM4_X = [(35, 110), (131, 206), (226, 301), (318, 393)]


def km_row(n0, lab, ly, y_top, y_bot, yrange, ICI_T, ICI_S, CH_T, CH_S, CENS, T1, T1C, T2, T2C, tx,
           t1y, legy, risk_y, RISK_CH, RISK_ICI):
    label(3, ly, lab)
    for k in range(4):
        n = n0 + k
        x0, x1 = KM4_X[k]
        km_axes(n, x0, x1, y_top, y_bot, yrange, [-1, 35], fs=6)
        xr, yr = rid(n)
        km(n, CH_T[k], CH_S[k], KM_GRAY, width=1.6)
        km(n, ICI_T[k], ICI_S[k], GREEN, width=1.6, cens=CENS[k])
        c1 = T1C[k]; c2 = T2C[k]
        T(tx[k], t1y, T1[k] if c1 is None else f"<b>{T1[k]}</b>", size=7, color="#333" if c1 is None else c1)
        T(tx[k], t1y + 9, T2[k] if c2 is None else f"<b>{T2[k]}</b>", size=7, color="#333" if c2 is None else c2)
        T((x0 + x1) / 2, risk_y, "<b>Time (months)</b>", size=7, xa="center")
        for tt, v in zip(RISK_TIMES, RISK_CH[k]):
            T(tt, risk_y + 9, str(v), size=5.5, color="#333", xa="center", xref=xr)
        for tt, v in zip(RISK_TIMES, RISK_ICI[k]):
            T(tt, risk_y + 16, str(v), size=5.5, color="#333", xa="center", xref=xr)
    T(20, (y_top + y_bot) / 2, "<b>PFS %</b>", size=6.5, xa="center", angle=-90)
    LN(64, legy, 77, legy, color=GREEN, width=2)
    LN(70.5, legy - 2.5, 70.5, legy + 2.5, color=GREEN, width=1)
    LN(64, legy + 10, 77, legy + 10, color=KM_GRAY, width=2)
    LN(70.5, legy + 7.5, 70.5, legy + 12.5, color=KM_GRAY, width=1)
    T(80, legy, "ICI", size=8)
    T(80, legy + 10, "Chemo", size=8)
    T(12, risk_y, "No. at risk", size=5.5, color="#333")
    T(12, risk_y + 9, "Chemo", size=5.5, color="#333")
    T(12, risk_y + 16, "ICI", size=5.5, color="#333")


km_row(14, "H", 648, 635, 686, [-2.1, 106.4], H_ICI_T, H_ICI_S, H_CH_T, H_CH_S, H_CENS,
       H_T1, H_T1_C, H_T2, H_T2_C, [63, 155, 253, 350], 640, 660, 701, H_RISK_CH, H_RISK_ICI)
km_row(20, "K", 868, 863, 919, [-1.9, 105.8], K_ICI_T, K_ICI_S, K_CH_T, K_CH_S, K_CENS,
       K_T1, K_T1_C, K_T2, K_T2_C, [48, 143, 238, 335], 873, 893, 931, K_RISK_CH, K_RISK_ICI)

# ---------------- Panels L / M / N ----------------
label(413, 491, "L")
label(528, 491, "M")
label(643, 491, "N")
LX = [px for px, col in zip(L_COL_X, L_COL_Y) for _ in col]
LY = [v for col in L_COL_Y for v in col]
SC_SPECS = [
    (24, (437, 522), [-1.42, 2.125], [-1, 0, 1, 2], ["-1", "0", "1", "2"], [-6.7, 62.5], [0, 20, 40, 60],
     LX, LY, L_FIT_X, L_FIT_Y, "POPLAR/OAK (n=255)", "Rho=0.122", "P=0.052", "bTMB", 426),
    (25, (550, 636), [-1.21, 0.583], [-1, -0.5, 0, 0.5], ["-1.0", "-0.5", "0.0", "0.5"], [-4.4, 41.1],
     [0, 10, 20, 30, 40], M_X, M_Y, M_FIT_X, M_FIT_Y, "MSKCC (n=47)", "Rho=0.070", "P=0.639", "tTMB", 540),
    (26, (665, 764), [-1.227, 1.02], [-1, -0.5, 0, 0.5, 1], ["-1.0", "-0.5", "0.0", "0.5", "1.0"],
     [-164, 1541], [0, 500, 1000, 1500], N_X, N_Y, N_FIT_X, N_FIT_Y, "MSKCC (n=20)", "Rho=-0.085",
     "<i>P</i>=0.722", "Predicted neoantigen", 649),
]
for n, (x0, x1), xrg, xt, xtt, yrg, yt, xs, ys, fx, fy, ttl, rho, pv, ytitle, ytx in SC_SPECS:
    xr, yr = rid(n)
    axes(n, x0, x1, 505, 588,
         xa=dict(AXV, range=xrg, tickvals=xt, ticktext=xtt, tickfont=tf(6.5, "#222"), ticklen=2),
         ya=dict(AXV, range=yrg, tickvals=yt, tickfont=tf(6.5, "#222"), ticklen=2))
    fig.add_trace(go.Scatter(x=xs, y=ys, mode="markers", xaxis=xr, yaxis=yr,
                             marker=dict(size=4.5, color=SCAT_C), showlegend=False, hoverinfo="skip"))
    fig.add_trace(go.Scatter(x=fx, y=fy, mode="lines", xaxis=xr, yaxis=yr,
                             line=dict(color=LOESS_C, width=1.8, shape="spline"), showlegend=False,
                             hoverinfo="skip"))
    rx = min(x1, 757) - 1
    T(rx, 505, ttl, size=8, color="#333", xa="right")
    T(rx, 516, rho, size=7.5, color="#333", xa="right")
    T(rx, 524, pv, size=7.5, color="#333", xa="right")
    T(ytx, 546, f"<b>{ytitle}</b>", size=6.5, xa="center", angle=-90)
    T((x0 + x1) / 2 + 3, 600, "<b>Inter-score</b>", size=6.5, xa="center")

# ---------------- Panel O ----------------
label(413, 613, "O")
slots = []
cur = 0.0
prev_g = O_GROUP[0]
for i, s in enumerate(O_SUB):
    if O_GROUP[i] != prev_g:
        cur += 1
        prev_g = O_GROUP[i]
    h = s.count("<br>") + 1
    slots.append(cur + (h - 1) / 2)
    cur += h
OL = [0.125, 2.05]
axes(27, 552, 673, 615, 933, xa=logaxis(OL[0], OL[1], O_TICKS, size=6.5, tickangle=-45, ticklen=2),
     ya=dict(range=[30.74, -3.085]))
vline1(27, dash="dash", width=1.5)
forest(27, O_HR, O_LO, O_HI, slots, O_BLUE, size=6, thick=1.5, capw=2, xlim=OL)
T(612, 946, "HR (95% CI)", size=7.5, xa="center", color="#333")
axes(28, 420, 760, 620, 954, ya=dict(range=[30.49, -2.36]))
T(425, 631, "<b>Subgroup</b>", size=8.5)
T(480, 631, "<b>N</b>", size=8.5)
T(496, 633, "<b>Inter-high</b>", size=7, xa="left", ya="bottom", angle=-28)
T(510, 634, "<b>Inter-low</b>", size=7, xa="left", ya="bottom", angle=-28)
T(526, 633, "<b>Fisher test</b>", size=7, xa="left", ya="bottom", angle=-28)
T(677, 631, "<b>HR (95% CI)</b>", size=8.5)
T(738, 631, "<b><i>P</i></b>", size=8.5)
for i in range(len(O_SUB)):
    s = slots[i]
    T(425, s, O_SUB[i], size=8.5, yref="y28", color="#222")
    T(480, s, str(O_N[i]), size=8.5, yref="y28", color="#222", family=NARROW)
    T(496, s, str(O_HIGH[i]), size=8.5, yref="y28", color="#222", family=NARROW)
    T(512, s, str(O_LOW[i]), size=8.5, yref="y28", color="#222", family=NARROW)
    if O_FISHER[i]:
        T(527, s, O_FISHER[i], size=8.5, yref="y28", color="#222", family=NARROW)
    T(677, s, f"{O_HR[i]:.2f} ({O_LO[i]:.2f}-{O_HI[i]:.2f})", size=8, yref="y28", color="#222", family=NARROW)
    T(736, s, O_P[i], size=8, yref="y28", color="#222", family=NARROW)

fig.update_layout(width=W, height=H, margin=dict(l=0, r=0, t=0, b=0, autoexpand=False), showlegend=False,
                  plot_bgcolor="rgba(0,0,0,0)", paper_bgcolor="white", hovermode=False,
                  font=dict(family=FONT, size=8, color="#222"), annotations=ANN, shapes=SHP, **LAYOUT)
fig.write_html("out.html", config={"displayModeBar": False, "staticPlot": True},
               post_script="document.body.style.margin='0px';document.body.style.padding='0px';")
